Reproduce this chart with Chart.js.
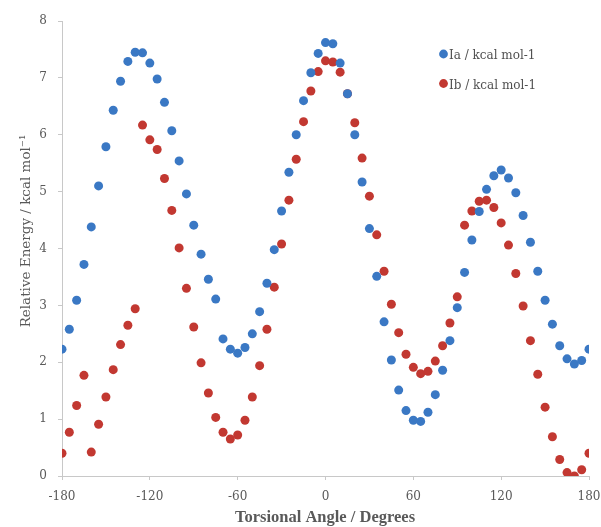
<!DOCTYPE html>
<html>
<head>
<meta charset="utf-8">
<title>Torsional energy profile</title>
<script src="https://cdn.jsdelivr.net/npm/chart.js@4/dist/chart.umd.min.js"></script>
<style>
  html, body { margin: 0; padding: 0; background: #fff; }
  #wrap { width: 601px; height: 527px; }
</style>
</head>
<body>
<div id="wrap"><canvas id="chart" width="601" height="527"></canvas></div>
<script>
// Torsional scan, two conformer series

const angles = [
  -180, -175, -170, -165, -160, -155, -150, -145, -140, -135, -130, -125,
  -120, -115, -110, -105, -100, -95, -90, -85, -80, -75, -70, -65,
  -60, -55, -50, -45, -40, -35, -30, -25, -20, -15, -10, -5,
  0, 5, 10, 15, 20, 25, 30, 35, 40, 45, 50, 55,
  60, 65, 70, 75, 80, 85, 90, 95, 100, 105, 110, 115,
  120, 125, 130, 135, 140, 145, 150, 155, 160, 165, 170, 175,
  180
];

const energyIa = [
  2.23, 2.58, 3.09, 3.72, 4.38, 5.10, 5.79, 6.43, 6.94, 7.29, 7.45, 7.44,
  7.26, 6.98, 6.57, 6.07, 5.54, 4.96, 4.41, 3.90, 3.46, 3.11, 2.41, 2.23,
  2.16, 2.26, 2.50, 2.89, 3.39, 3.98, 4.66, 5.34, 6.00, 6.60, 7.09, 7.43,
  7.62, 7.60, 7.26, 6.72, 6.00, 5.17, 4.35, 3.51, 2.71, 2.04, 1.51, 1.15,
  0.98, 0.96, 1.12, 1.43, 1.86, 2.38, 2.96, 3.58, 4.15, 4.65, 5.04, 5.28,
  5.38, 5.24, 4.98, 4.58, 4.11, 3.60, 3.09, 2.67, 2.29, 2.06, 1.97, 2.03,
  2.23
];

const energyIb = [
  0.40, 0.77, 1.24, 1.77, 0.42, 0.91, 1.39, 1.87, 2.31, 2.65, 2.94, 6.17,
  5.91, 5.74, 5.23, 4.67, 4.01, 3.30, 2.62, 1.99, 1.46, 1.03, 0.77, 0.65,
  0.72, 0.98, 1.39, 1.94, 2.58, 3.32, 4.08, 4.85, 5.57, 6.23, 6.77, 7.11,
  7.30, 7.28, 7.10, 6.72, 6.21, 5.59, 4.92, 4.24, 3.60, 3.02, 2.52, 2.14,
  1.91, 1.80, 1.84, 2.02, 2.29, 2.69, 3.15, 4.41, 4.66, 4.83, 4.85, 4.72,
  4.45, 4.06, 3.56, 2.99, 2.38, 1.79, 1.21, 0.69, 0.29, 0.06, 0.00, 0.11,
  0.40
];

const seriesNames = ['Ia / kcal mol-1', 'Ib / kcal mol-1'];
const xTicks = [-180, -120, -60, 0, 60, 120, 180];
const yTicks = [0, 1, 2, 3, 4, 5, 6, 7, 8];

const xTitle = 'Torsional Angle / Degrees';
const yTitle = 'Relative Energy / kcal mol\u207B\u00B9';

const BLUE = '#3a78c4';
const RED = '#c23831';
const AXIS_GREY = '#c8c8c8';
const TEXT_GREY = '#595959';

function toPoints(values) {
  return angles.map((a, i) => ({ x: a, y: values[i] }));
}

// titles and the in-plot legend are drawn here so they sit where the figure has them
const decorations = {
  id: 'decorations',
  afterDraw(chart) {
    const ctx = chart.ctx;
    ctx.save();
    ctx.fillStyle = TEXT_GREY;
    ctx.textAlign = 'center';
    ctx.textBaseline = 'middle';

    ctx.font = 'bold 16.5px "Liberation Serif"';
    ctx.fillText(xTitle, 325, 518);

    ctx.save();
    ctx.translate(26, 231);
    ctx.rotate(-Math.PI / 2);
    ctx.font = '13.5px "DejaVu Serif"';
    ctx.fillText(yTitle, 0, 0);
    ctx.restore();

    // legend
    ctx.font = '12px "DejaVu Serif"';
    ctx.textAlign = 'left';
    chart.data.datasets.forEach((ds, i) => {
      const y = 54 + i * 29.5;
      ctx.beginPath();
      ctx.arc(443.5, y, 4.4, 0, Math.PI * 2);
      ctx.fillStyle = ds.backgroundColor;
      ctx.fill();
      ctx.fillStyle = '#505050';
      ctx.fillText(ds.label, 449, y + 2);
    });
    ctx.restore();
  }
};

new Chart(document.getElementById('chart'), {
  type: 'scatter',
  data: {
    datasets: [
      {
        label: seriesNames[0],
        data: toPoints(energyIa),
        backgroundColor: BLUE,
        borderColor: BLUE,
        pointRadius: 4.5,
        pointBorderWidth: 0
      },
      {
        label: seriesNames[1],
        data: toPoints(energyIb),
        backgroundColor: RED,
        borderColor: RED,
        pointRadius: 4.5,
        pointBorderWidth: 0
      }
    ]
  },
  options: {
    responsive: false,
    animation: false,
    layout: { padding: { top: 21, right: 12, left: 0, bottom: 0 } },
    plugins: {
      legend: { display: false },
      tooltip: { enabled: false }
    },
    scales: {
      x: {
        type: 'linear',
        min: -180,
        max: 180,
        afterFit(scale) {
          scale.height = 51;
          scale.paddingLeft = 0;
          scale.paddingRight = 0;
        },
        afterBuildTicks(scale) { scale.ticks = xTicks.map(v => ({ value: v })); },
        border: { color: AXIS_GREY, width: 1 },
        grid: { drawOnChartArea: false, drawTicks: true, tickLength: 4, color: AXIS_GREY },
        ticks: {
          autoSkip: false,
          maxRotation: 0,
          padding: 10,
          color: TEXT_GREY,
          font: { family: '"DejaVu Serif"', size: 12 }
        }
      },
      y: {
        min: 0,
        max: 8,
        afterFit(scale) {
          scale.width = 62;
          scale.paddingTop = 0;
          scale.paddingBottom = 0;
        },
        afterBuildTicks(scale) { scale.ticks = yTicks.map(v => ({ value: v })); },
        border: { color: AXIS_GREY, width: 1 },
        grid: { drawOnChartArea: false, drawTicks: true, tickLength: 4, color: AXIS_GREY },
        ticks: {
          padding: 11,
          color: TEXT_GREY,
          font: { family: '"DejaVu Serif"', size: 12 }
        }
      }
    }
  },
  plugins: [decorations]
});
</script>
</body>
</html>
